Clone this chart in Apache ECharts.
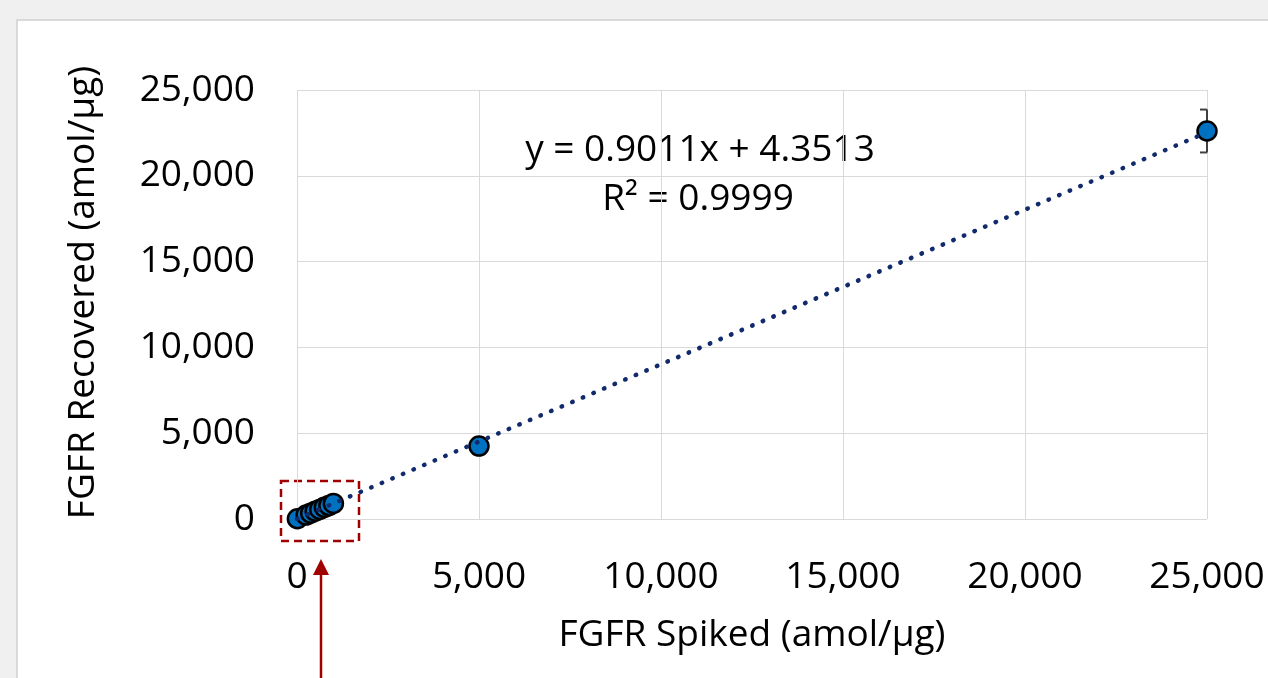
<!DOCTYPE html>
<html>
<head>
    <meta charset="utf-8">
    <title>FGFR Spiked vs Recovered</title>
    <script src="https://cdn.jsdelivr.net/npm/echarts@6/dist/echarts.min.js"></script>
    <style>
        html, body {
            margin: 0;
            padding: 0;
            width: 1268px;
            height: 678px;
            overflow: hidden;
            background-color: #f0f0f0;
        }
        .panel {
            position: absolute;
            left: 16px;
            top: 19px;
            width: 1300px;
            height: 700px;
            background-color: #fff;
            border: 2px solid #d9d9d9;
        }
        #main {
            position: absolute;
            left: 0;
            top: 0;
            width: 1268px;
            height: 678px;
        }
    </style>
</head>
<body>
    <div class="panel"></div>
    <div id="main"></div>
    <script type="text/javascript">
        // data
        var spiked = [10, 250, 375, 500, 625, 750, 875, 1000, 5000, 25000];
        var recovered = [15, 230, 335, 455, 560, 680, 785, 905, 4250, 22610];
        var errSpiked = [25000];
        var errLow = [21360];
        var errHigh = [23860];
        var xTicks = [0, 5000, 10000, 15000, 20000, 25000];
        var yTicks = [0, 5000, 10000, 15000, 20000, 25000];
        // trendline from the equation in the chart
        var slope = 0.9011;
        var intercept = 4.3513;
        var eqText = 'y = 0.9011x + 4.3513';
        var r2Text = 'R\u00b2 = 0.9999';

        var font = "'Open Sans', 'Noto Sans', sans-serif";
        var fs = 37;

        var myChart = echarts.init(document.getElementById('main'));

        var points = spiked.map(function (x, i) { return [x, recovered[i]]; });
        var trend = [
            [xTicks[0], slope * xTicks[0] + intercept],
            [xTicks[xTicks.length - 1], slope * xTicks[xTicks.length - 1] + intercept]
        ];
        var errData = errSpiked.map(function (x, i) { return [x, errLow[i], errHigh[i]]; });

        function fmt(v) {
            return echarts.format.addCommas(v);
        }

        var option = {
            animation: false,
            grid: {
                left: 297,
                top: 90,
                right: 61,
                bottom: 159
            },
            xAxis: {
                type: 'value',
                min: xTicks[0],
                max: xTicks[xTicks.length - 1],
                interval: xTicks[1] - xTicks[0],
                name: 'FGFR Spiked (amol/µg)',
                nameLocation: 'middle',
                nameGap: 98,
                nameTextStyle: { fontFamily: font, fontSize: fs, color: '#000' },
                axisLine: { show: false },
                axisTick: { show: false },
                axisLabel: { fontFamily: font, fontSize: fs, color: '#000', margin: 40, formatter: fmt },
                splitLine: { show: true, lineStyle: { color: '#d9d9d9', width: 1 } }
            },
            yAxis: {
                type: 'value',
                min: yTicks[0],
                max: yTicks[yTicks.length - 1],
                interval: yTicks[1] - yTicks[0],
                name: 'FGFR Recovered (amol/µg)',
                nameLocation: 'middle',
                nameRotate: 90,
                nameGap: 195,
                nameTextStyle: { fontFamily: font, fontSize: fs, color: '#000', padding: [0, 0, 0, 24] },
                axisLine: { show: false },
                axisTick: { show: false },
                axisLabel: { fontFamily: font, fontSize: fs, color: '#000', margin: 42, formatter: fmt },
                splitLine: { show: true, lineStyle: { color: '#d9d9d9', width: 1 } }
            },
            series: [
                {
                    // error bar
                    type: 'custom',
                    z: 1,
                    data: errData,
                    renderItem: function (params, api) {
                        var x = api.coord([api.value(0), api.value(1)]);
                        var hi = api.coord([api.value(0), api.value(2)]);
                        var style = { stroke: '#404040', lineWidth: 2, fill: null };
                        return {
                            type: 'group',
                            children: [
                                { type: 'line', shape: { x1: x[0], y1: x[1], x2: hi[0], y2: hi[1] }, style: style },
                                { type: 'line', shape: { x1: x[0] - 7, y1: x[1], x2: x[0], y2: x[1] }, style: style },
                                { type: 'line', shape: { x1: hi[0] - 7, y1: hi[1], x2: hi[0], y2: hi[1] }, style: style }
                            ]
                        };
                    }
                },
                {
                    type: 'scatter',
                    z: 2,
                    data: points,
                    symbol: 'circle',
                    symbolSize: 19,
                    itemStyle: { color: '#0070c0', borderColor: '#000', borderWidth: 2.5, opacity: 1 }
                },
                {
                    type: 'line',
                    z: 3,
                    data: trend,
                    symbol: 'none',
                    silent: true,
                    lineStyle: { color: '#102a6b', width: 4.5, type: [0.5, 11], cap: 'round', opacity: 1 }
                }
            ],
            graphic: [
                {
                    type: 'text',
                    x: 700,
                    y: 150,
                    style: { text: eqText, font: fs + 'px ' + font, fill: '#000', align: 'center', verticalAlign: 'middle' }
                },
                {
                    type: 'text',
                    x: 698,
                    y: 199,
                    style: { text: r2Text, font: fs + 'px ' + font, fill: '#000', align: 'center', verticalAlign: 'middle' }
                },
                {
                    // dashed highlight box around the low-concentration points
                    type: 'rect',
                    shape: { x: 281, y: 481, width: 78, height: 60 },
                    style: { fill: null, stroke: '#a00000', lineWidth: 2.5, lineDash: [8, 5] }
                },
                {
                    type: 'line',
                    shape: { x1: 321, y1: 680, x2: 321, y2: 572 },
                    style: { stroke: '#a00000', lineWidth: 2.5 }
                },
                {
                    type: 'polygon',
                    shape: { points: [[321, 559], [313, 575], [329, 575]] },
                    style: { fill: '#a00000' }
                }
            ]
        };

        myChart.setOption(option);
    </script>
</body>
</html>
